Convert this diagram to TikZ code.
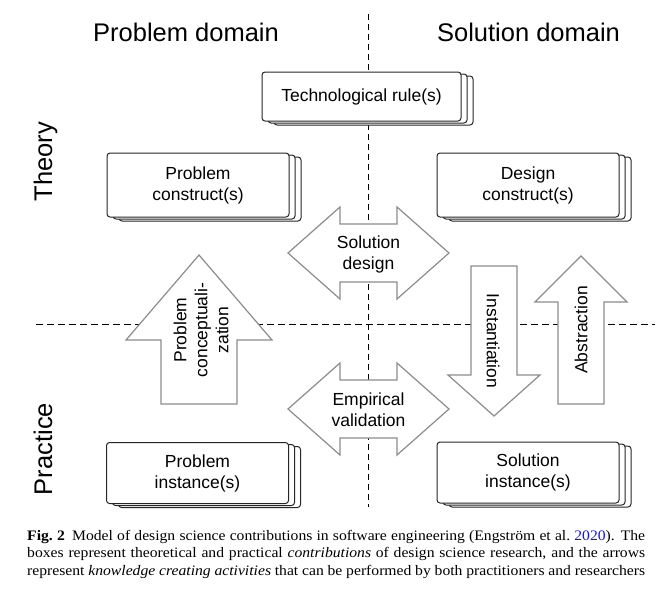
\documentclass[tikz,border=0pt]{standalone}
\usepackage{fontspec}
\setmainfont{Liberation Sans}
\newfontfamily\capfont[FakeStretch=1.08]{Liberation Serif}
\usetikzlibrary{shadows}
\definecolor{citeblue}{RGB}{20,20,235}

\tikzset{
  layer/.style={draw=black!85, fill=white, line width=1pt, rounded corners=3pt},
  stackbox/.style={layer, minimum width=182pt, minimum height=64pt, align=center,
    font=\fontsize{17.5}{21}\selectfont,
    copy shadow={layer, shadow xshift=12pt, shadow yshift=-4pt},
    copy shadow={layer, shadow xshift=6pt, shadow yshift=-2pt}},
  blockarrow/.style={draw=black!45, fill=white, line width=1.2pt},
  arrowtext/.style={align=center, font=\fontsize{17.5}{21}\selectfont},
  domainlabel/.style={font=\fontsize{25.5}{30}\selectfont},
}
\newcommand{\capline}[1]{\makebox[618pt][s]{#1}}

\begin{document}
\begin{tikzpicture}[x=1pt, y=-1pt]
  \useasboundingbox (0,0) rectangle (661,595);

  % domain and level dividers
  \draw[dashed, dash pattern=on 6pt off 4pt, line width=0.9pt] (368,14) -- (368,507);
  \draw[dashed, dash pattern=on 7pt off 4pt, line width=0.9pt] (36,324) -- (655,324);

  % headings
  \node[domainlabel, anchor=base] (pdomain) at (186,41) {Problem domain};
  \node[domainlabel, anchor=base] (sdomain) at (528.5,41) {Solution domain};
  \node[domainlabel, rotate=90, anchor=base] (theory) at (52,161.5) {Theory};
  \node[domainlabel, rotate=90, anchor=base] (practice) at (52,449) {Practice};

  % contributions
  \node[stackbox, minimum width=199pt, minimum height=49pt] (rule) at (361.5,96.5) {Technological rule(s)};
  \node[stackbox] (pconstruct) at (198,185) {Problem\\construct(s)};
  \node[stackbox] (dconstruct) at (528,185) {Design\\construct(s)};
  \node[stackbox, minimum height=61pt] (pinstance) at (197.5,473) {Problem\\instance(s)};
  \node[stackbox, minimum height=61pt] (sinstance) at (528,472.5) {Solution\\instance(s)};

  % activities
  \draw[blockarrow] (288,253) -- ++(52,-46) -- ++(0,17) -- ++(57,0) -- ++(0,-17) -- ++(52,46)
    -- ++(-52,46) -- ++(0,-17) -- ++(-57,0) -- ++(0,17) -- cycle;
  \node[arrowtext] (sdesign) at (368.5,254) {Solution\\design};

  \draw[blockarrow] (288,409) -- ++(52,-46) -- ++(0,17) -- ++(57,0) -- ++(0,-17) -- ++(52,46)
    -- ++(-52,46) -- ++(0,-17) -- ++(-57,0) -- ++(0,17) -- cycle;
  \node[arrowtext] (evalid) at (368.5,410) {Empirical\\validation};

  \draw[blockarrow] (199,255) -- ++(73,85) -- ++(-35,0) -- ++(0,64) -- ++(-76,0) -- ++(0,-64)
    -- ++(-35,0) -- cycle;
  \node[arrowtext, rotate=90] (pconcept) at (201,330) {Problem\\conceptuali-\\zation};

  \draw[blockarrow] (471,266) -- ++(46,0) -- ++(0,109) -- ++(23,0) -- ++(-46,41) -- ++(-46,-41)
    -- ++(23,0) -- cycle;
  \node[arrowtext, rotate=-90] (instant) at (493,341) {Instantiation};

  \draw[blockarrow] (581,256) -- ++(46,46) -- ++(-23,0) -- ++(0,102) -- ++(-46,0) -- ++(0,-102)
    -- ++(-23,0) -- cycle;
  \node[arrowtext, rotate=90] (abstract) at (581,330) {Abstraction};

  % caption
  \node[anchor=north west, inner sep=0pt, align=left,
    font=\capfont\fontsize{14.5}{17.5}\selectfont] (caption) at (27,530)
    {\capline{{\bfseries Fig.~2}\hspace{0.5em}Model of design science contributions in software engineering
     (Engstr\"om et al.~\textcolor{citeblue}{2020}). The}\\
     \capline{boxes represent theoretical and practical \textit{contributions} of design science research, and the arrows}\\
     \capline{represent \textit{knowledge creating activities} that can be performed by both practitioners and researchers}};
\end{tikzpicture}
\end{document}
